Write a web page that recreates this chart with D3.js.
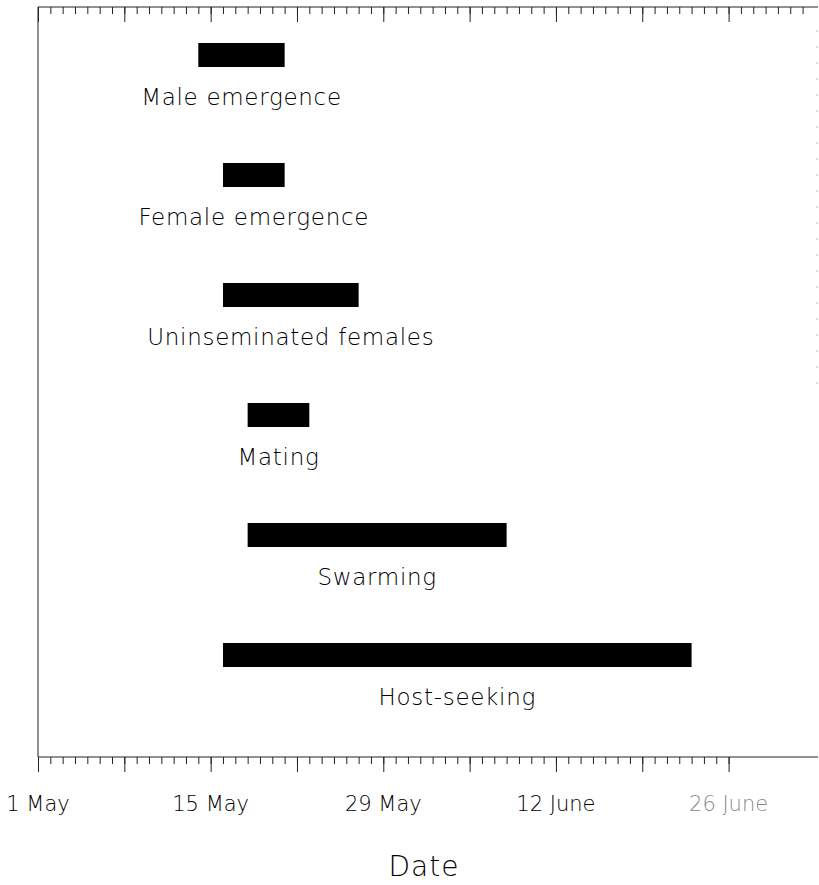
<!DOCTYPE html>
<html>
<head>
<meta charset="utf-8">
<script src="https://cdn.jsdelivr.net/npm/d3@7"></script>
<style>
  body { margin: 0; background: #fff; }
  text { font-family: "DejaVu Sans", "Liberation Sans", sans-serif; }
</style>
</head>
<body>
<svg id="chart" width="819" height="885"></svg>
<script>
// Seasonal activity periods
const activities = ["Male emergence", "Female emergence", "Uninseminated females", "Mating", "Swarming", "Host-seeking"];
const startDates = ["2000-05-14", "2000-05-16", "2000-05-16", "2000-05-18", "2000-05-18", "2000-05-16"];
const endDates   = ["2000-05-21", "2000-05-21", "2000-05-27", "2000-05-23", "2000-06-08", "2000-06-23"];

// Labelled dates on the time axis
const tickLabels     = ["1 May", "15 May", "29 May", "12 June", "26 June"];
const tickLabelDates = ["2000-05-01", "2000-05-15", "2000-05-29", "2000-06-12", "2000-06-26"];

const parse = d3.utcParse("%Y-%m-%d");
const rows = activities.map((name, i) => ({ name, start: parse(startDates[i]), end: parse(endDates[i]) }));

const svg = d3.select("#chart");
const plotLeft = 38, plotRight = 818, plotTop = 7, plotBottom = 757;

const x = d3.scaleUtc()
  .domain([parse("2000-05-01"), d3.utcHour.offset(parse("2000-07-03"), 6)])
  .range([plotLeft, plotRight]);

const y = d3.scaleBand()
  .domain(activities)
  .range([43, 667])
  .paddingInner(0.8)
  .paddingOuter(0)
  .align(0);

// Frame: left edge and faint right edge
svg.append("line")
  .attr("x1", plotLeft).attr("x2", plotLeft).attr("y1", plotTop).attr("y2", plotBottom)
  .attr("stroke", "#222").attr("stroke-width", 1);
svg.append("line")
  .attr("x1", plotRight - 1).attr("x2", plotRight - 1).attr("y1", 30).attr("y2", 390)
  .attr("stroke", "#bbb").attr("stroke-width", 1).attr("stroke-dasharray", "2,14");

// Day / week tick axes along top and bottom
function tickAxis(yPos, lastDate, lastWeek) {
  const days = d3.utcDay.range(parse("2000-05-01"), d3.utcDay.offset(lastDate, 1));
  const weeks = d3.utcDay.range(parse("2000-05-01"), d3.utcDay.offset(lastWeek, 1), 7);
  const g = svg.append("g").attr("transform", `translate(0,${yPos})`);
  g.call(d3.axisBottom(x).tickValues(days).tickSize(7).tickSizeOuter(0).tickFormat(""));
  g.select(".domain").remove();
  const gw = svg.append("g").attr("transform", `translate(0,${yPos})`);
  gw.call(d3.axisBottom(x).tickValues(weeks).tickSize(15).tickSizeOuter(0).tickFormat(""));
  gw.select(".domain").remove();
  svg.selectAll(".tick line").attr("stroke", "#222");
  svg.append("line")
    .attr("x1", plotLeft).attr("x2", plotRight).attr("y1", yPos).attr("y2", yPos)
    .attr("stroke", "#222").attr("stroke-width", 1);
}
tickAxis(plotTop, parse("2000-07-02"), parse("2000-06-26"));
tickAxis(plotBottom, parse("2000-06-26"), parse("2000-06-26"));

// Date labels under the bottom axis
svg.append("g").selectAll("text")
  .data(tickLabels)
  .join("text")
  .attr("x", (d, i) => x(parse(tickLabelDates[i])))
  .attr("y", 811)
  .attr("text-anchor", "middle")
  .attr("font-size", 21)
  .attr("font-weight", 200)
  .attr("fill", (d, i) => i === tickLabels.length - 1 ? "#888" : "#000")
  .text(d => d);

// Activity bars
svg.append("g").selectAll("rect")
  .data(rows)
  .join("rect")
  .attr("x", d => x(d.start))
  .attr("y", d => y(d.name))
  .attr("width", d => x(d.end) - x(d.start))
  .attr("height", y.bandwidth())
  .attr("fill", "#000");

// Activity names centred below their bars
svg.append("g").selectAll("text")
  .data(rows)
  .join("text")
  .attr("x", d => (x(d.start) + x(d.end)) / 2)
  .attr("y", d => y(d.name) + y.bandwidth() + 38)
  .attr("text-anchor", "middle")
  .attr("font-size", 23)
  .attr("font-weight", 200)
  .attr("letter-spacing", 0.7)
  .attr("fill", "#000")
  .text(d => d.name);

// Axis title
svg.append("text")
  .attr("x", 424)
  .attr("y", 876)
  .attr("text-anchor", "middle")
  .attr("font-size", 28)
  .attr("font-weight", 200)
  .attr("letter-spacing", 1)
  .attr("fill", "#000")
  .text("Date");
</script>
</body>
</html>
